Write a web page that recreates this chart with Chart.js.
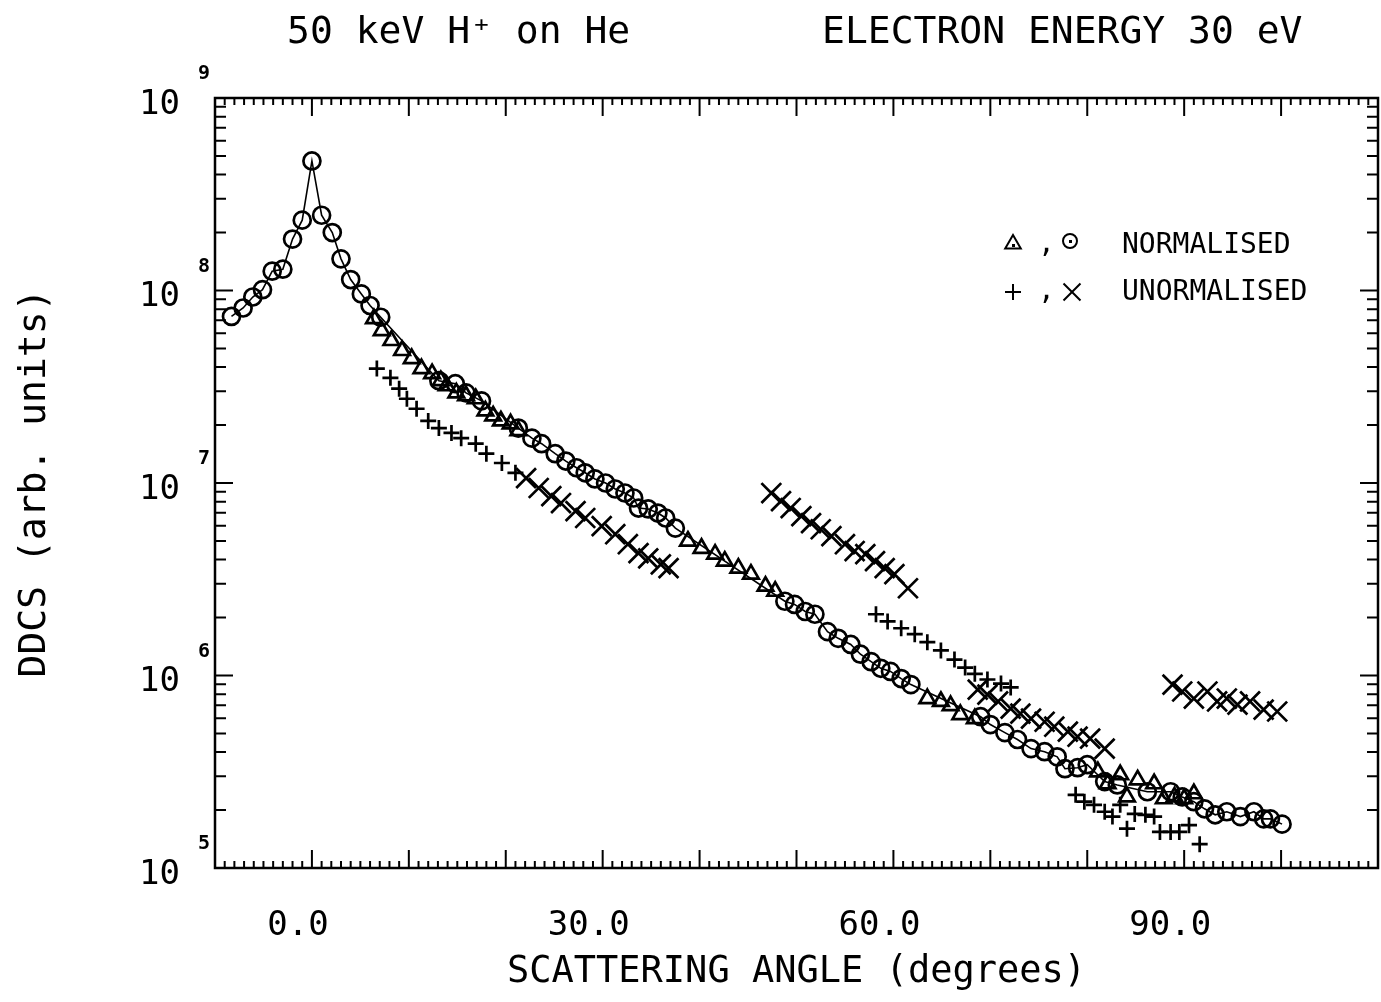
<!DOCTYPE html>
<html>
<head>
<meta charset="utf-8">
<script src="https://cdn.jsdelivr.net/npm/chart.js@4/dist/chart.umd.min.js"></script>
<style>
body { margin: 0; background: #fff; }
</style>
</head>
<body>
<canvas id="ddcs" width="1381" height="1002"></canvas>
<script>
// normalised, circles (this set carries the joining line)
var circAngle = [-8.3,-7.1,-6.1,-5.1,-4.1,-3.0,-2.0,-1.0,0.0,1.0,2.1,3.0,4.0,5.1,6.0,7.1,
  13.1,14.8,15.9,17.5,21.3,22.7,23.7,25.1,26.2,27.3,28.2,29.2,30.3,31.3,32.3,33.2,33.7,34.7,35.7,36.5,37.5,
  48.8,49.8,50.9,51.9,53.2,54.3,55.6,56.6,57.7,58.7,59.7,60.8,61.8,
  69.0,70.0,71.5,72.8,74.2,75.6,76.9,77.7,79.0,80.0,81.8,83.1,86.2,88.6,89.8,91.0,92.1,93.2,94.4,95.8,97.2,98.2,98.9,100.1]
var circDdcs = [7.33e7,8.11e7,9.25e7,1.01e8,1.26e8,1.29e8,1.85e8,2.32e8,4.71e8,2.46e8,2.00e8,1.46e8,1.14e8,9.6e7,8.36e7,7.26e7,
  3.40e7,3.28e7,2.94e7,2.67e7,1.93e7,1.71e7,1.60e7,1.42e7,1.30e7,1.20e7,1.13e7,1.05e7,1.00e7,9.31e6,8.87e6,8.36e6,7.41e6,7.33e6,6.98e6,6.58e6,5.83e6,
  2.43e6,2.34e6,2.15e6,2.08e6,1.69e6,1.56e6,1.45e6,1.29e6,1.18e6,1.09e6,1.05e6,9.64e5,8.97e5,
  6.11e5,5.56e5,5.05e5,4.65e5,4.17e5,4.02e5,3.78e5,3.28e5,3.32e5,3.44e5,2.81e5,2.70e5,2.49e5,2.49e5,2.34e5,2.21e5,2.03e5,1.89e5,1.96e5,1.85e5,1.96e5,1.80e5,1.80e5,1.69e5]

// normalised, triangles
var triAngle = [6.4,7.2,8.2,9.3,10.3,11.3,12.4,13.3,13.9,14.9,15.9,16.9,17.9,18.7,19.5,20.5,21.3,
  38.8,40.2,41.6,42.6,44.0,45.3,46.8,47.8,
  63.5,64.9,65.9,66.9,68.4,
  81.1,82.1,83.4,84.1,85.2,86.9,87.9,89.0,90.0,91.0]
var triDdcs = [7.14e7,6.19e7,5.50e7,4.88e7,4.43e7,3.93e7,3.70e7,3.40e7,3.20e7,2.94e7,2.84e7,2.74e7,2.37e7,2.23e7,2.10e7,2.03e7,1.87e7,
  4.99e6,4.58e6,4.27e6,3.93e6,3.61e6,3.36e6,2.91e6,2.74e6,
  7.59e5,7.33e5,6.98e5,6.27e5,5.97e5,
  3.16e5,2.74e5,3.05e5,2.34e5,2.87e5,2.74e5,2.29e5,2.34e5,2.29e5,2.43e5]

// unnormalised, plus
var plusAngle = [6.7,8.1,9.0,9.8,10.8,12.0,13.1,14.4,15.4,16.9,18.0,19.6,21.0,
  58.2,59.4,60.8,62.2,63.5,64.9,66.3,67.4,68.4,69.7,71.1,72.1,
  78.8,79.7,80.7,81.8,82.6,83.4,84.1,84.9,86.0,86.9,87.5,88.6,89.5,90.5,91.6]
var plusDdcs = [3.93e7,3.52e7,3.09e7,2.74e7,2.43e7,2.10e7,1.93e7,1.82e7,1.71e7,1.60e7,1.42e7,1.27e7,1.13e7,
  2.08e6,1.91e6,1.76e6,1.64e6,1.49e6,1.35e6,1.21e6,1.10e6,1.02e6,9.53e5,9.08e5,8.67e5,
  2.40e5,2.21e5,2.13e5,1.96e5,1.85e5,2.13e5,1.60e5,1.91e5,1.89e5,1.85e5,1.54e5,1.54e5,1.54e5,1.67e5,1.33e5]

// unnormalised, cross
var crossAngle = [22.1,23.4,24.7,25.7,27.2,28.2,29.9,31.3,32.6,33.7,34.7,36.0,36.8,
  47.4,48.4,49.4,50.5,51.5,52.5,53.6,55.0,56.0,57.1,58.1,59.1,60.1,61.5,
  68.7,69.7,70.8,72.1,73.1,74.2,75.6,76.6,78.0,79.0,80.3,81.8,
  88.8,89.8,91.0,92.4,93.4,94.4,95.5,96.8,98.2,99.6]
var crossDdcs = [1.06e7,9.42e6,8.55e6,7.87e6,7.14e6,6.58e6,5.97e6,5.42e6,4.81e6,4.32e6,4.06e6,3.78e6,3.61e6,
  8.87e6,8.05e6,7.41e6,6.73e6,6.19e6,5.75e6,5.30e6,4.81e6,4.43e6,4.27e6,3.93e6,3.61e6,3.36e6,2.84e6,
  8.45e5,7.96e5,7.33e5,6.73e5,6.34e5,5.97e5,5.75e5,5.42e5,5.11e5,4.81e5,4.70e5,4.17e5,
  8.97e5,8.26e5,7.59e5,8.26e5,7.33e5,7.59e5,7.06e5,7.33e5,6.65e5,6.50e5]

var xTickLabels = [0, 30, 60, 90]
var yDecades = [5, 6, 7, 8, 9]

var FONT = "'DejaVu Sans Mono', monospace"

function pts(xs, ys) {
  return xs.map(function (v, i) { return {x: v, y: ys[i]} })
}

// frame, inward ticks, exponents, titles and legend
var decorations = {
  id: 'decorations',
  afterDatasetsDraw: function (chart) {
    var ctx = chart.ctx, a = chart.chartArea, x = chart.scales.x, y = chart.scales.y
    ctx.save()
    ctx.strokeStyle = '#000'
    ctx.fillStyle = '#000'
    ctx.lineWidth = 2.5
    ctx.strokeRect(a.left, a.top, a.right - a.left, a.bottom - a.top)

    ctx.lineWidth = 2
    ctx.beginPath()
    for (var d = x.min; d <= x.max; d++) {
      var px = x.getPixelForValue(d)
      var len = d % 10 === 0 ? 18 : 7
      ctx.moveTo(px, a.top); ctx.lineTo(px, a.top + len)
      ctx.moveTo(px, a.bottom); ctx.lineTo(px, a.bottom - len)
    }
    for (var e = 5; e < 9; e++) {
      for (var m = 1; m < 10; m++) {
        var py = y.getPixelForValue(m * Math.pow(10, e))
        var l = m === 1 ? 18 : 11
        ctx.moveTo(a.left, py); ctx.lineTo(a.left + l, py)
        ctx.moveTo(a.right, py); ctx.lineTo(a.right - l, py)
      }
    }
    ctx.stroke()

    // exponents of the 10s
    ctx.font = 'bold 20px ' + FONT
    ctx.textAlign = 'center'
    ctx.textBaseline = 'middle'
    yDecades.forEach(function (e) {
      ctx.fillText(String(e), a.left - 11, y.getPixelForValue(Math.pow(10, e)) - 24)
    })

    // title
    ctx.font = '38px ' + FONT
    ctx.textAlign = 'left'
    ctx.fillText('50 keV H\u207A on He', 287, 33)
    ctx.fillText('ELECTRON ENERGY 30 eV', 822, 33)

    // legend
    var H = Chart.helpers
    ctx.lineWidth = 2
    ctx.font = '28px ' + FONT
    var sym = function (style, r, px, py) {
      ctx.fillStyle = 'rgba(0,0,0,0)'
      H.drawPoint(ctx, {pointStyle: style, radius: r, borderWidth: 2}, px, py)
      ctx.fillStyle = '#000'
    }
    sym('triangle', 9, 1013, 244)
    ctx.fillRect(1012, 244, 3, 3)
    ctx.fillText(',', 1038, 245)
    sym('circle', 7, 1070, 241)
    ctx.fillRect(1069, 240, 3, 3)
    ctx.fillText('NORMALISED', 1122, 246)
    sym('cross', 8, 1013, 292)
    ctx.fillText(',', 1038, 292)
    sym('crossRot', 12, 1072, 292)
    ctx.fillText('UNORMALISED', 1122, 293)
    ctx.restore()
  }
}

var ds = function (data, style, r, extra) {
  var o = {
    data: data, pointStyle: style, pointRadius: r, pointHoverRadius: r,
    pointBorderColor: '#000', pointBackgroundColor: 'rgba(0,0,0,0)', pointBorderWidth: 2.7,
    borderColor: '#000', borderWidth: 1.6, showLine: false
  }
  return Object.assign(o, extra || {})
}

new Chart(document.getElementById('ddcs').getContext('2d'), {
  type: 'scatter',
  data: {
    datasets: [
      ds(pts(circAngle, circDdcs), 'circle', 8.5, {label: 'normalised (o)', showLine: true}),
      ds(pts(triAngle, triDdcs), 'triangle', 9, {label: 'normalised (triangle)'}),
      ds(pts(plusAngle, plusDdcs), 'cross', 8, {label: 'unormalised (+)'}),
      ds(pts(crossAngle, crossDdcs), 'crossRot', 14, {label: 'unormalised (x)'})
    ]
  },
  options: {
    responsive: false,
    animation: false,
    layout: {autoPadding: false, padding: {top: 98, right: 3, left: 0, bottom: 0}},
    plugins: {legend: {display: false}, tooltip: {enabled: false}, title: {display: false}},
    scales: {
      x: {
        type: 'linear', min: -10, max: 110,
        grid: {display: false}, border: {display: false},
        afterBuildTicks: function (s) { s.ticks = xTickLabels.map(function (v) { return {value: v} }) },
        afterFit: function (s) { s.height = 134; s.paddingLeft = 0; s.paddingRight = 0 },
        ticks: {
          color: '#000', font: {family: FONT, size: 34}, padding: 30, labelOffset: -14,
          maxRotation: 0, autoSkip: false,
          callback: function (v) { return v.toFixed(1) }
        },
        title: {display: true, text: 'SCATTERING ANGLE (degrees)', color: '#000',
          font: {family: FONT, size: 37}, padding: {top: 0, bottom: 7}}
      },
      y: {
        type: 'logarithmic', min: 1e5, max: 1e9,
        grid: {display: false}, border: {display: false},
        afterBuildTicks: function (s) { s.ticks = yDecades.map(function (e) { return {value: Math.pow(10, e)} }) },
        afterFit: function (s) { s.width = 215; s.paddingTop = 0; s.paddingBottom = 0 },
        ticks: {
          color: '#000', font: {family: FONT, size: 34}, padding: 27, labelOffset: 7,
          autoSkip: false, callback: function () { return '10' }
        },
        title: {display: true, text: 'DDCS (arb. units)', color: '#000',
          font: {family: FONT, size: 38}, padding: {top: 12, bottom: 0}}
      }
    }
  },
  plugins: [decorations]
})
</script>
</body>
</html>
